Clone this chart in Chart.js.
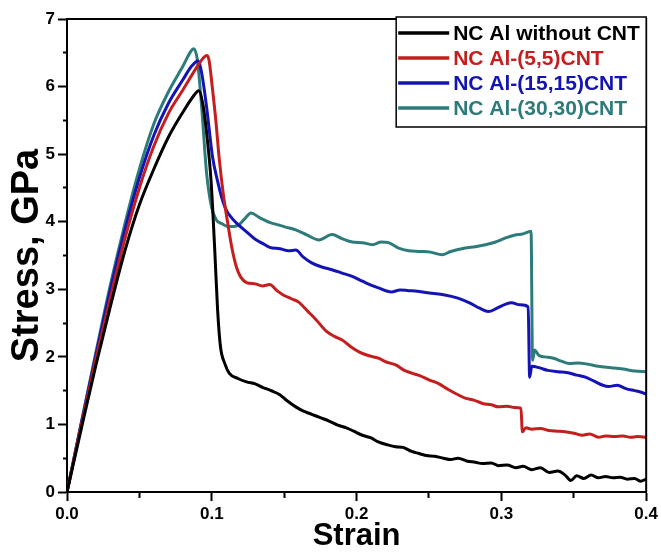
<!DOCTYPE html>
<html>
<head>
<meta charset="utf-8">
<script src="https://cdn.jsdelivr.net/npm/chart.js@4.4.1/dist/chart.umd.min.js"></script>
<style>
    html, body { margin: 0; padding: 0; background: #fff; }
    #wrap { width: 661px; height: 555px; }
</style>
</head>
<body>
<div id="wrap"><canvas id="myChart" width="661" height="555"></canvas></div>
<script>
// series labels and colours
const seriesNames = ["NC Al without CNT", "NC Al-(5,5)CNT", "NC Al-(15,15)CNT", "NC Al-(30,30)CNT"];
const seriesColors = ["#000000", "#c41e1e", "#1414b4", "#2e7b7b"];

// NC Al without CNT
const blackStrain = [0, 0.01, 0.02, 0.03, 0.04, 0.05, 0.06, 0.07, 0.08, 0.087, 0.091, 0.094, 0.097, 0.0995, 0.102, 0.104, 0.106, 0.109, 0.112, 0.118, 0.124, 0.13, 0.135, 0.141, 0.147, 0.152, 0.158, 0.163, 0.169, 0.175, 0.181, 0.187, 0.193, 0.198, 0.204, 0.21, 0.215, 0.221, 0.227, 0.232, 0.238, 0.243, 0.248, 0.254, 0.26, 0.265, 0.27, 0.276, 0.282, 0.287, 0.293, 0.298, 0.304, 0.31, 0.315, 0.321, 0.327, 0.333, 0.339, 0.344, 0.348, 0.352, 0.357, 0.362, 0.367, 0.372, 0.377, 0.382, 0.387, 0.392, 0.396, 0.4];
const blackStress = [0, 0.95, 1.88, 2.75, 3.57, 4.25, 4.78, 5.25, 5.62, 5.85, 5.94, 5.72, 5.2, 4.6, 3.6, 2.7, 2.15, 1.9, 1.76, 1.68, 1.63, 1.6, 1.55, 1.5, 1.44, 1.35, 1.26, 1.2, 1.15, 1.1, 1.05, 0.99, 0.95, 0.9, 0.84, 0.8, 0.74, 0.7, 0.67, 0.66, 0.6, 0.57, 0.54, 0.53, 0.5, 0.48, 0.5, 0.46, 0.44, 0.42, 0.43, 0.39, 0.4, 0.36, 0.38, 0.33, 0.36, 0.29, 0.31, 0.25, 0.17, 0.24, 0.2, 0.25, 0.21, 0.23, 0.21, 0.22, 0.19, 0.2, 0.16, 0.19];

// NC Al-(5,5)CNT
const redStrain = [0, 0.01, 0.02, 0.03, 0.04, 0.05, 0.06, 0.07, 0.08, 0.09, 0.094, 0.0964, 0.098, 0.1005, 0.103, 0.105, 0.108, 0.111, 0.114, 0.117, 0.12, 0.124, 0.13, 0.135, 0.14, 0.145, 0.149, 0.155, 0.16, 0.166, 0.172, 0.179, 0.185, 0.19, 0.196, 0.202, 0.208, 0.215, 0.221, 0.227, 0.233, 0.238, 0.244, 0.25, 0.257, 0.263, 0.269, 0.275, 0.281, 0.287, 0.293, 0.298, 0.304, 0.309, 0.3135, 0.3145, 0.317, 0.321, 0.327, 0.333, 0.339, 0.344, 0.35, 0.356, 0.361, 0.367, 0.372, 0.378, 0.384, 0.389, 0.394, 0.4];
const redStress = [0, 1.0, 1.97, 2.88, 3.75, 4.5, 5.12, 5.6, 5.95, 6.3, 6.42, 6.46, 6.4, 5.96, 5.45, 4.96, 4.4, 3.98, 3.6, 3.33, 3.18, 3.1, 3.08, 3.05, 3.07, 2.98, 2.92, 2.86, 2.81, 2.68, 2.55, 2.38, 2.3, 2.25, 2.15, 2.07, 2.02, 1.98, 1.92, 1.88, 1.8, 1.76, 1.72, 1.66, 1.6, 1.52, 1.45, 1.39, 1.36, 1.31, 1.29, 1.26, 1.27, 1.25, 1.24, 0.89, 0.95, 0.93, 0.94, 0.91, 0.9, 0.89, 0.87, 0.84, 0.86, 0.81, 0.83, 0.82, 0.83, 0.81, 0.82, 0.81];

// NC Al-(15,15)CNT
const blueStrain = [0, 0.01, 0.02, 0.03, 0.04, 0.05, 0.06, 0.07, 0.08, 0.086, 0.0905, 0.093, 0.0964, 0.1005, 0.104, 0.1067, 0.11, 0.114, 0.118, 0.124, 0.13, 0.135, 0.14, 0.147, 0.153, 0.158, 0.163, 0.169, 0.176, 0.183, 0.19, 0.197, 0.204, 0.21, 0.215, 0.224, 0.23, 0.236, 0.242, 0.252, 0.26, 0.27, 0.278, 0.285, 0.291, 0.297, 0.303, 0.307, 0.313, 0.3185, 0.3195, 0.321, 0.326, 0.332, 0.339, 0.345, 0.352, 0.358, 0.364, 0.37, 0.374, 0.38, 0.386, 0.392, 0.396, 0.4];
const blueStress = [0, 1.03, 2.03, 3.0, 3.88, 4.65, 5.28, 5.75, 6.1, 6.3, 6.38, 6.2, 5.7, 4.96, 4.6, 4.37, 4.17, 4.05, 3.96, 3.85, 3.74, 3.68, 3.62, 3.6, 3.57, 3.58, 3.48, 3.39, 3.33, 3.29, 3.24, 3.19, 3.12, 3.06, 3.02, 2.96, 2.99, 2.98, 2.97, 2.94, 2.92, 2.87, 2.8, 2.72, 2.67, 2.72, 2.78, 2.8, 2.77, 2.74, 1.7, 1.86, 1.84, 1.8, 1.78, 1.77, 1.73, 1.7, 1.64, 1.58, 1.56, 1.58, 1.53, 1.5, 1.48, 1.45];

// NC Al-(30,30)CNT
const tealStrain = [0, 0.01, 0.02, 0.03, 0.04, 0.05, 0.06, 0.07, 0.08, 0.0855, 0.0875, 0.09, 0.093, 0.0964, 0.0998, 0.103, 0.107, 0.111, 0.115, 0.119, 0.123, 0.127, 0.133, 0.14, 0.1446, 0.151, 0.158, 0.166, 0.174, 0.183, 0.19, 0.197, 0.204, 0.211, 0.217, 0.222, 0.229, 0.236, 0.243, 0.251, 0.259, 0.265, 0.275, 0.282, 0.289, 0.296, 0.303, 0.309, 0.315, 0.3205, 0.3215, 0.323, 0.326, 0.33, 0.336, 0.341, 0.347, 0.353, 0.36, 0.367, 0.376, 0.384, 0.392, 0.4];
const tealStress = [0, 1.04, 2.07, 3.07, 3.97, 4.78, 5.45, 5.92, 6.3, 6.52, 6.56, 6.4, 5.7, 4.72, 4.22, 4.03, 3.97, 3.93, 3.93, 3.96, 4.05, 4.13, 4.06, 3.99, 3.96, 3.92, 3.88, 3.8, 3.73, 3.81, 3.75, 3.7, 3.69, 3.66, 3.7, 3.69, 3.61, 3.57, 3.56, 3.55, 3.51, 3.56, 3.61, 3.63, 3.66, 3.7, 3.76, 3.8, 3.82, 3.86, 1.95, 2.1, 2.02, 2.0, 1.98, 1.94, 1.9, 1.91, 1.89, 1.86, 1.84, 1.82, 1.79, 1.78];

// axis ticks
const xMin = 0, xMax = 0.4, xStep = 0.05;
const yMin = 0, yMax = 7, yStep = 0.5;

const FONT = "'Liberation Sans', Arial, sans-serif";

function toPoints(xs, ys) {
    return xs.map((x, i) => ({ x: x, y: ys[i] }));
}

function isMajor(value, every) {
    const k = value / every;
    return Math.abs(k - Math.round(k)) < 1e-6;
}

// top and right sides of the frame
const framePlugin = {
    id: "frame",
    afterDatasetsDraw(chart) {
        const { ctx, chartArea } = chart;
        ctx.save();
        ctx.strokeStyle = "#000";
        ctx.lineWidth = 2;
        ctx.beginPath();
        ctx.moveTo(chartArea.left, chartArea.top);
        ctx.lineTo(chartArea.right, chartArea.top);
        ctx.lineTo(chartArea.right, chartArea.bottom);
        ctx.stroke();
        ctx.restore();
    },
};

// legend box in the top right corner, text in the series colour
const boxLegend = {
    id: "boxLegend",
    afterDraw(chart) {
        const { ctx, chartArea } = chart;
        const sets = chart.data.datasets;
        const w = 250, rowH = 25, h = 110;
        const right = chartArea.right;
        const left = right - w;
        const top = chartArea.top - 2;

        ctx.save();
        ctx.fillStyle = "#fff";
        ctx.fillRect(left, top, w, h);
        ctx.strokeStyle = "#000";
        ctx.lineWidth = 1.5;
        ctx.strokeRect(left, top, w, h);

        ctx.font = "bold 21px " + FONT;
        ctx.textBaseline = "middle";
        sets.forEach((ds, i) => {
            const y = top + 16 + i * rowH;
            ctx.strokeStyle = ds.borderColor;
            ctx.lineWidth = 3.5;
            ctx.beginPath();
            ctx.moveTo(left + 2, y);
            ctx.lineTo(left + 53, y);
            ctx.stroke();
            ctx.fillStyle = ds.borderColor;
            ctx.fillText(ds.label, left + 57, y + 1);
        });
        ctx.restore();
    },
};

function buildChart() {
    const xs = [blackStrain, redStrain, blueStrain, tealStrain];
    const ys = [blackStress, redStress, blueStress, tealStress];

    const datasets = seriesNames.map((name, i) => ({
        label: name,
        data: toPoints(xs[i], ys[i]),
        borderColor: seriesColors[i],
        backgroundColor: seriesColors[i],
        borderWidth: 3,
        pointRadius: 0,
        showLine: true,
        cubicInterpolationMode: "monotone",
        fill: false,
    }));

    const config = {
        type: "scatter",
        data: { datasets: datasets },
        options: {
            responsive: false,
            animation: false,
            layout: { padding: { left: 0, top: 19, right: 14, bottom: 0 } },
            plugins: {
                legend: { display: false },
                tooltip: { enabled: false },
            },
            scales: {
                x: {
                    type: "linear",
                    min: xMin,
                    max: xMax,
                    afterFit(scale) { scale.height = 63; },
                    border: { display: true, color: "#000", width: 2 },
                    grid: {
                        drawOnChartArea: false,
                        drawTicks: true,
                        tickLength: 9,
                        tickWidth: 2,
                        tickColor: "#000",
                        tickBorderDash: (c) => (isMajor(c.tick.value, 0.1) ? [] : [5, 100]),
                    },
                    ticks: {
                        stepSize: xStep,
                        color: "#000",
                        padding: 3,
                        maxRotation: 0,
                        autoSkip: false,
                        font: { family: FONT, size: 17, weight: "bold" },
                        callback: (v) => (isMajor(v, 0.1) ? Number(v).toFixed(1) : ""),
                    },
                    title: {
                        display: true,
                        text: "Strain",
                        color: "#000",
                        padding: 0,
                        font: { family: FONT, size: 31, weight: "bold" },
                    },
                },
                y: {
                    type: "linear",
                    min: yMin,
                    max: yMax,
                    afterFit(scale) { scale.width = 67; },
                    border: { display: true, color: "#000", width: 2 },
                    grid: {
                        drawOnChartArea: false,
                        drawTicks: true,
                        tickLength: 9,
                        tickWidth: 2,
                        tickColor: "#000",
                        tickBorderDash: (c) => (isMajor(c.tick.value, 1) ? [] : [5, 5]),
                        tickBorderDashOffset: (c) => (isMajor(c.tick.value, 1) ? 0 : 5),
                    },
                    ticks: {
                        stepSize: yStep,
                        color: "#000",
                        padding: 3,
                        autoSkip: false,
                        font: { family: FONT, size: 17, weight: "bold" },
                        callback: (v) => (isMajor(v, 1) ? String(Math.round(v)) : ""),
                    },
                    title: {
                        display: true,
                        text: "Stress, GPa",
                        color: "#000",
                        padding: { top: 5, bottom: 0 },
                        font: { family: FONT, size: 38, weight: "bold" },
                    },
                },
            },
        },
        plugins: [framePlugin, boxLegend],
    };

    const ctx = document.getElementById("myChart").getContext("2d");
    return new Chart(ctx, config);
}

buildChart();
</script>
</body>
</html>
